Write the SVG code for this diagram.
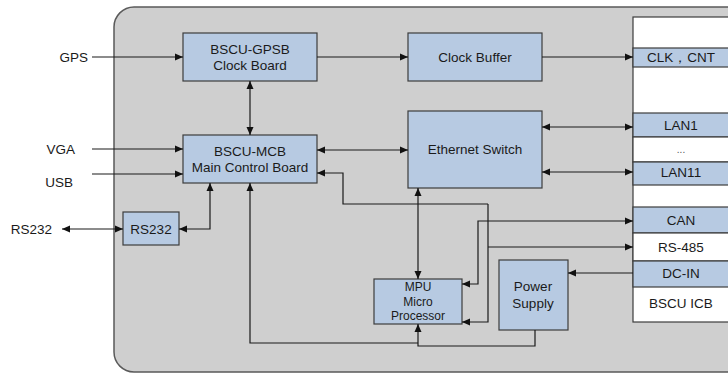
<svg xmlns="http://www.w3.org/2000/svg" width="728" height="373" viewBox="0 0 728 373">
<style>
text{font-family:"Liberation Sans",Arial,sans-serif;font-size:13.5px;fill:#1a1a1a;text-anchor:middle;dominant-baseline:central}
.lbl{text-anchor:end}
.box{fill:#b7cae2;stroke:#3c3c3c;stroke-width:1.2}
.cell{stroke:#3c3c3c;stroke-width:1.2}
.w{fill:#ffffff}
.b{fill:#b7cae2}
.c{fill:none;stroke:#1a1a1a;stroke-width:1.2}
.a{marker-end:url(#ah)}
.d{marker-start:url(#ah);marker-end:url(#ah)}
</style>
<defs>
<marker id="ah" markerUnits="userSpaceOnUse" markerWidth="9" markerHeight="8" refX="8" refY="4" orient="auto-start-reverse">
<path d="M0,0.5 L8,4 L0,7.5 z" fill="#111"/>
</marker>
</defs>
<rect x="114" y="7" width="640" height="365" rx="20" fill="#cfcfcf" stroke="#5a5a5a" stroke-width="1.5"/>

<g id="labels">
<text class="lbl" x="88" y="57">GPS</text>
<text class="lbl" x="75" y="149">VGA</text>
<text class="lbl" x="73" y="182">USB</text>
<text class="lbl" x="52" y="229">RS232</text>
</g>

<g id="gpsb"><rect class="box" x="183" y="33" width="134" height="48"/><text x="250" y="49">BSCU-GPSB</text><text x="250" y="65">Clock Board</text></g>
<g id="mcb"><rect class="box" x="183" y="135" width="134" height="48"/><text x="250" y="151">BSCU-MCB</text><text x="250" y="167">Main Control Board</text></g>
<g id="clockbuffer"><rect class="box" x="408" y="33" width="134" height="48"/><text x="475" y="57">Clock Buffer</text></g>
<g id="ethernet"><rect class="box" x="408" y="111" width="134" height="77"/><text x="475" y="149">Ethernet Switch</text></g>
<g id="rs232"><rect class="box" x="123" y="212" width="56" height="33"/><text x="151" y="229">RS232</text></g>
<g id="mpu"><rect class="box" x="374" y="279" width="88" height="45"/><text x="418" y="287" style="font-size:12px">MPU</text><text x="418" y="302" style="font-size:12px">Micro</text><text x="418" y="316" style="font-size:12px">Processor</text></g>
<g id="power"><rect class="box" x="499" y="260" width="69" height="70"/><text x="533" y="286">Power</text><text x="533" y="303">Supply</text></g>

<g id="icb">
<rect class="cell w" x="633" y="17" width="97" height="305"/>
<rect class="cell b" x="633" y="48" width="97" height="19"/>
<rect class="cell b" x="633" y="113" width="97" height="24"/>
<rect class="cell w" x="633" y="137" width="97" height="25"/>
<rect class="cell b" x="633" y="162" width="97" height="23"/>
<rect class="cell b" x="633" y="207" width="97" height="26"/>
<rect class="cell w" x="633" y="233" width="97" height="28"/>
<rect class="cell b" x="633" y="261" width="97" height="26"/>
<text x="681" y="57">CLK，CNT</text>
<text x="681" y="125">LAN1</text>
<text x="681" y="149" style="font-size:10px;fill:#555">...</text>
<text x="681" y="172">LAN11</text>
<text x="681" y="220">CAN</text>
<text x="681" y="247">RS-485</text>
<text x="681" y="273">DC-IN</text>
<text x="681" y="303">BSCU ICB</text>
</g>

<g id="connectors">
<path class="c a" d="M92,57 H183"/>
<path class="c a" d="M92,149 H183"/>
<path class="c a" d="M92,174 H183"/>
<path class="c d" d="M62,229 H123"/>
<path class="c d" d="M179,229 H210 V183"/>
<path class="c d" d="M250,81 V135"/>
<path class="c a" d="M317,57 H408"/>
<path class="c a" d="M542,57 H633"/>
<path class="c d" d="M317,150 H408"/>
<path class="c d" d="M542,127 H633"/>
<path class="c d" d="M542,172 H633"/>
<path class="c d" d="M418,188 V279"/>
<path class="c a" d="M488,204 H343 V173 H317"/>
<path class="c a" d="M488,204 V322 H462"/>
<path class="c a" d="M488,247 H633"/>
<path class="c d" d="M633,221 H478 V284 H462"/>
<path class="c a" d="M633,273 H568"/>
<path class="c a" d="M418,343 H250 V183"/>
<path class="c a" d="M535,330 V346 H418 V324"/>
</g>
</svg>
